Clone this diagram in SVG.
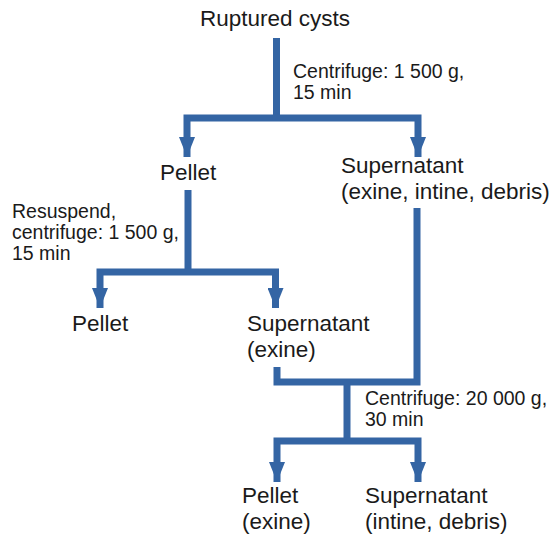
<svg xmlns="http://www.w3.org/2000/svg" width="553" height="538" viewBox="0 0 553 538">
<style>
text{font-family:"Liberation Sans",Arial,sans-serif;fill:#1a1a1a}
.n{font-size:22.5px}
.s{font-size:19.5px}
.c{fill:none;stroke:#3465a4;stroke-width:7;stroke-linejoin:miter;stroke-linecap:butt}
</style>
<defs>
<marker id="ah" markerUnits="userSpaceOnUse" markerWidth="16" markerHeight="22" refX="8" refY="20" orient="0" viewBox="0 0 16 22">
<path d="M0,0 L16,0 L8,20 Z" fill="#3465a4"/>
</marker>
</defs>
<rect width="553" height="538" fill="#ffffff"/>
<g id="connectors">
<path class="c" d="M276.5,38 V118"/>
<path class="c" d="M187,157 V118 H418 V157" marker-start="url(#ah)" marker-end="url(#ah)"/>
<path class="c" d="M188,190 V272"/>
<path class="c" d="M100,308 V272 H275.5 V308" marker-start="url(#ah)" marker-end="url(#ah)"/>
<path class="c" d="M277,367 V382 H417 V208"/>
<path class="c" d="M347,382 V441"/>
<path class="c" d="M277,482 V441 H418 V482" marker-start="url(#ah)" marker-end="url(#ah)"/>
</g>
<g id="n-ruptured"><text class="n" x="200" y="26">Ruptured cysts</text></g>
<g id="l-centrifuge1"><text class="s" x="293" y="78">Centrifuge: 1 500 g,</text><text class="s" x="293" y="99">15 min</text></g>
<g id="n-pellet1"><text class="n" x="160" y="180">Pellet</text></g>
<g id="n-super1"><text class="n" x="341" y="173">Supernatant</text><text class="n" x="341" y="199">(exine, intine, debris)</text></g>
<g id="l-resuspend"><text class="s" x="12" y="218">Resuspend,</text><text class="s" x="12" y="239">centrifuge: 1 500 g,</text><text class="s" x="12" y="260">15 min</text></g>
<g id="n-pellet2"><text class="n" x="72" y="331">Pellet</text></g>
<g id="n-super2"><text class="n" x="247" y="331">Supernatant</text><text class="n" x="247" y="357">(exine)</text></g>
<g id="l-centrifuge2"><text class="s" x="365" y="405">Centrifuge: 20 000 g,</text><text class="s" x="365" y="426">30 min</text></g>
<g id="n-pellet3"><text class="n" x="242" y="503">Pellet</text><text class="n" x="242" y="529">(exine)</text></g>
<g id="n-super3"><text class="n" x="365" y="503">Supernatant</text><text class="n" x="365" y="529">(intine, debris)</text></g>
</svg>
